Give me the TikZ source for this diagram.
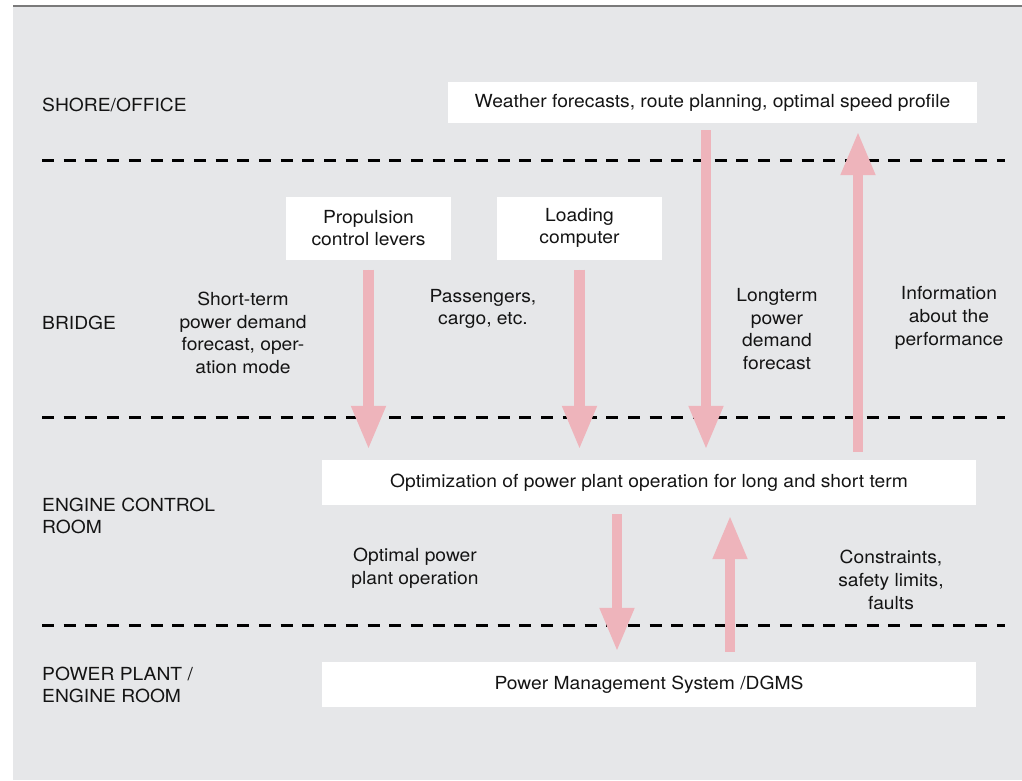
\documentclass[tikz,border=0pt]{standalone}
\usepackage{fontspec}
\setmainfont{TeX Gyre Heros}[FakeStretch=1.07]
\usetikzlibrary{arrows.meta}
\definecolor{bggrey}{HTML}{E6E7E9}
\definecolor{pinkarrow}{HTML}{EEB4BB}
\definecolor{rulegrey}{HTML}{7A7A7A}
\begin{document}
\begin{tikzpicture}[x=1pt,y=-1pt,
  every node/.style={font=\fontsize{18}{22.7}\selectfont, inner sep=0pt, text=black!92},
  whitebox/.style={fill=white, align=center},
  txt/.style={align=center},
  zone/.style={align=left, anchor=west},
  divider/.style={black, line width=3pt, dash pattern=on 12pt off 9.7pt},
  flow/.style={draw=pinkarrow, fill=pinkarrow, line width=10.5pt, -{Triangle[width=32pt,length=44pt]}}
]
\useasboundingbox (0,0) rectangle (1022,780);
\fill[bggrey] (13,7) rectangle (1022,780);
\draw[rulegrey, line width=1.5pt] (13,6) -- (1022,6);

% dividers
\draw[divider] (42,160) -- (1005,160);
\draw[divider] (42,417) -- (1005,417);
\draw[divider] (42,625) -- (1005,625);

% zone labels
\node[zone] (shore) at (42,105) {SHORE/OFFICE};
\node[zone] (bridge) at (42,323) {BRIDGE};
\node[zone] (ecr) at (42,516) {ENGINE CONTROL\\ROOM};
\node[zone] (pp) at (42,685) {POWER PLANT /\\ENGINE ROOM};

% boxes
\node[whitebox, minimum width=529pt, minimum height=41pt] (weather) at (712.5,102.5) {Weather forecasts, route planning, optimal speed profile};
\node[whitebox, minimum width=165pt, minimum height=63pt] (prop) at (368.5,228) {Propulsion\\control levers};
\node[whitebox, minimum width=165pt, minimum height=63pt] (load) at (579.5,228) {Loading\\computer};
\node[whitebox, minimum width=654pt, minimum height=45pt] (opt) at (649,482.5) {Optimization of power plant operation for long and short term};
\node[whitebox, minimum width=654pt, minimum height=45pt] (pms) at (649,684.5) {Power Management System /DGMS};

% flow labels
\node[txt] (l1) at (243,333) {Short-term\\power demand\\forecast, oper-\\ation mode};
\node[txt] (l2) at (483,309) {Passengers,\\cargo, etc.};
\node[txt] (l3) at (777,329) {Longterm\\power\\demand\\forecast};
\node[txt] (l4) at (949,318) {Information\\about the\\performance};
\node[txt] (l5) at (415,568) {Optimal power\\plant operation};
\node[txt] (l6) at (891,580) {Constraints,\\safety limits,\\faults};

% arrow x positions
\coordinate (xlt) at (706,0);
\coordinate (xinfo) at (858,0);
\coordinate (xopt) at (617,0);
\coordinate (xcon) at (730,0);

% arrows
\draw[flow, shorten <=10pt, shorten >=10pt] (prop.south) -- (prop.south |- opt.north);
\draw[flow, shorten <=10pt, shorten >=10pt] (load.south) -- (load.south |- opt.north);
\draw[flow, shorten <=7pt, shorten >=10pt] (weather.south -| xlt) -- (opt.north -| xlt);
\draw[flow, shorten <=8pt, shorten >=8pt] (opt.north -| xinfo) -- (weather.south -| xinfo);
\draw[flow, shorten <=9pt, shorten >=10pt] (opt.south -| xopt) -- (pms.north -| xopt);
\draw[flow, shorten <=10pt, shorten >=10pt] (pms.north -| xcon) -- (opt.south -| xcon);
\end{tikzpicture}
\end{document}
